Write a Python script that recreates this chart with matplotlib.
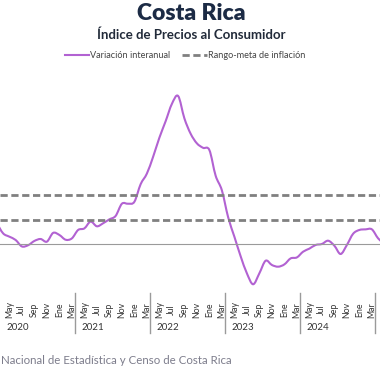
import numpy as np
import matplotlib
matplotlib.use("Agg")
import matplotlib.pyplot as plt
from matplotlib.path import Path
from matplotlib.patches import PathPatch
from matplotlib.lines import Line2D
from matplotlib.transforms import blended_transform_factory

plt.rcParams['font.family'] = ['Lato', 'DejaVu Sans']

# variacion interanual del IPC, mensual desde marzo 2020 hasta mayo 2025
ipc = [1.7, 0.87, 0.6, 0.33, -0.2, -0.1, 0.25, 0.41, 0.19, 0.91, 0.74, 0.35,
       0.46, 1.15, 1.28, 1.84, 1.45, 1.7, 2.02, 2.3, 3.3, 3.3, 3.46, 4.9,
       5.77, 7.15, 8.71, 10.06, 11.48, 12.13, 10.3, 9.04, 8.25, 7.88, 7.7, 5.6,
       4.4, 2.2, 0.6, -1.0, -2.4, -3.3, -2.4, -1.37, -1.72, -1.86, -1.67, -1.18,
       -1.1, -0.63, -0.38, -0.08, 0.0, 0.27, -0.14, -0.82, -0.08, 0.84, 1.15, 1.2,
       1.2, 0.46, 0.0]
meta_baja = 2.0
meta_alta = 4.0
meses = ['May', 'Jul', 'Sep', 'Nov', 'Ene', 'Mar']
anios = ['2020', '2021', '2022', '2023', '2024']

x = np.arange(len(ipc)) - 1   # 0 = abril 2020
y = np.array(ipc)

fig = plt.figure(figsize=(3.8, 3.8), dpi=100)
ax = fig.add_axes([0, 1 - 290 / 380, 1, 220 / 380])
ax.set_xlim(-0.5, 60.3)
ax.set_ylim(-3.77, 14.26)
ax.axis('off')

# linea suavizada (catmull-rom -> bezier)
pts = np.column_stack([x, y])
verts = [pts[0]]
codes = [Path.MOVETO]
for i in range(len(pts) - 1):
    p0 = pts[max(i - 1, 0)]
    p1 = pts[i]
    p2 = pts[i + 1]
    p3 = pts[min(i + 2, len(pts) - 1)]
    verts += [p1 + (p2 - p0) / 6, p2 - (p3 - p1) / 6, p2]
    codes += [Path.CURVE4] * 3
ax.add_patch(PathPatch(Path(verts, codes), fill=False, edgecolor='#b262d2',
                       lw=1.5, capstyle='round', joinstyle='round'))

ax.axhline(0, color='#9a9a9a', lw=0.8)
for v in (meta_baja, meta_alta):
    ax.axhline(v, color='#808080', lw=2, dashes=(2.6, 1.3))

# eje de categorias
tr = blended_transform_factory(ax.transData, fig.transFigure)
for k in range(30):
    m = 1 + 2 * k
    ax.text(m, 1 - 310 / 380, meses[k % 6], transform=tr, rotation=90,
            ha='center', va='center', fontsize=6.3, color='#333333')
for k, a in enumerate(anios):
    ax.text(-0.5 + 12 * k + 2.9, 1 - 327 / 380, a, transform=tr,
            ha='center', va='center', fontsize=7, color='#333333')
    sep = 11.5 + 12 * k
    ax.add_line(Line2D([sep, sep], [1 - 293 / 380, 1 - 333 / 380], transform=tr,
                       color='#9a9a9a', lw=1, clip_on=False))

fig.text(0.503, 1 - 14 / 380, 'Costa Rica', ha='center', va='center',
         fontsize=16.5, fontweight='heavy', color='#1c2b45')
fig.text(0.503, 1 - 35 / 380, 'Índice de Precios al Consumidor', ha='center',
         va='center', fontsize=9.5, fontweight='bold', color='#222b3a')

handles = [Line2D([], [], color='#b262d2', lw=1.5),
           Line2D([], [], color='#808080', lw=2, dashes=(2.6, 1.3))]
fig.legend(handles, ['Variación interanual', 'Rango-meta de inflación'],
           loc='center', bbox_to_anchor=(0.487, 1 - 56 / 380), ncol=2,
           frameon=False, fontsize=6.6, handlelength=2.7, handletextpad=0.1,
           columnspacing=1.3, labelcolor='#444444')

fig.text(1 / 380, 1 - 361 / 380,
         'Nacional de Estadística y Censo de Costa Rica',
         ha='left', va='center', fontsize=8.3, color='#7d7d8c')

fig.savefig('out.png', dpi=100)
